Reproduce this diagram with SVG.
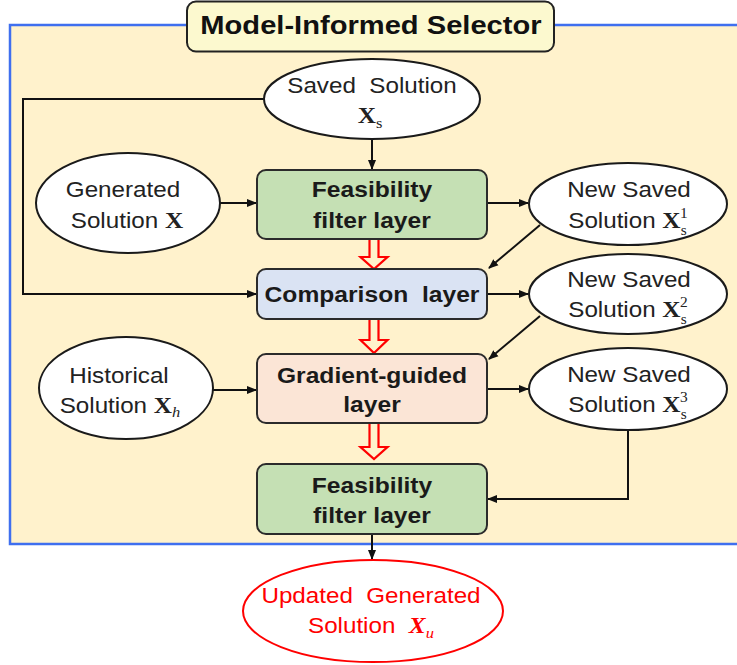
<svg xmlns="http://www.w3.org/2000/svg" width="737" height="665" viewBox="0 0 737 665">
<style>
  .t { font-family: "Liberation Sans", Arial, sans-serif; font-size: 22px; fill: #222; text-anchor: middle; transform-box: fill-box; transform-origin: center; transform: scaleX(1.1); }
  .b { font-family: "Liberation Sans", Arial, sans-serif; font-size: 22px; font-weight: bold; fill: #1a1a1a; text-anchor: middle; transform-box: fill-box; transform-origin: center; transform: scaleX(1.12); }
  .title { font-size: 26px; fill: #111; }
  .mx { font-family: "Liberation Serif", "Times New Roman", serif; font-weight: bold; font-size: 23px; }
  .sub { font-family: "Liberation Serif", "Times New Roman", serif; font-size: 15px; }
  .ss { font-family: "Liberation Serif", "Times New Roman", serif; font-size: 14px; }
  .it { font-style: italic; }
  .ell { fill: #ffffff; stroke: #1a1a1a; stroke-width: 2; }
  .box { stroke: #2b2b2b; stroke-width: 2; }
  .con { fill: none; stroke: #111; stroke-width: 2; }
  .red { fill: none; stroke: #ff0000; stroke-width: 2.2; stroke-linejoin: miter; }
  .red-t { fill: #ff0000; }
</style>
<defs>
  <marker id="ah" viewBox="0 0 10 10" refX="9" refY="5" markerWidth="5" markerHeight="5" orient="auto" markerUnits="strokeWidth">
    <path d="M0,1 L10,5 L0,9 Z" fill="#111"/>
  </marker>
</defs>
<rect width="737" height="665" fill="#ffffff"/>

<g id="panel">
  <rect x="10" y="25" width="740" height="519" fill="#FFF2CC" stroke="#3F6FEF" stroke-width="2.5"/>
</g>

<g id="title">
  <rect x="187" y="1.5" width="367" height="50" rx="9" fill="#FCF9CF" stroke="#222" stroke-width="2"/>
  <text class="b title" x="371" y="34">Model-Informed Selector</text>
</g>

<g id="connectors">
  <path class="con" d="M372,139 V169" marker-end="url(#ah)"/>
  <path class="con" d="M264,99 H23 V294 H256" marker-end="url(#ah)"/>
  <path class="con" d="M220,203 H256" marker-end="url(#ah)"/>
  <path class="con" d="M487,203 H528" marker-end="url(#ah)"/>
  <path class="con" d="M540,225 L489,268" marker-end="url(#ah)"/>
  <path class="con" d="M487,294 H528" marker-end="url(#ah)"/>
  <path class="con" d="M540,316 L489,359" marker-end="url(#ah)"/>
  <path class="con" d="M213,390 H256" marker-end="url(#ah)"/>
  <path class="con" d="M487,389 H528" marker-end="url(#ah)"/>
  <path class="con" d="M628,430 V499 H488" marker-end="url(#ah)"/>
  <path class="con" d="M372,534 V559" marker-end="url(#ah)"/>
  <path class="red" d="M369.5,240 V257 H360.5 L374,269 L387.5,257 H378.5 V240"/>
  <path class="red" d="M369.5,320 V340 H360.5 L374,353 L387.5,340 H378.5 V320"/>
  <path class="red" d="M369.5,424 V447 H360.5 L374,459 L387.5,447 H378.5 V424"/>
</g>

<g id="saved">
  <ellipse class="ell" cx="372" cy="99" rx="108" ry="40"/>
  <text class="t" x="372" y="93">Saved&#160; Solution</text>
  <text class="t" x="370" y="123"><tspan class="mx">X</tspan><tspan class="sub" dy="5">s</tspan></text>
</g>

<g id="generated">
  <ellipse class="ell" cx="128" cy="203" rx="92" ry="50"/>
  <text class="t" x="123" y="197">Generated</text>
  <text class="t" x="127" y="228">Solution <tspan class="mx">X</tspan></text>
</g>

<g id="historical">
  <ellipse class="ell" cx="126" cy="388" rx="87" ry="51"/>
  <text class="t" x="119" y="383">Historical</text>
  <text class="t" x="120" y="413">Solution <tspan class="mx">X</tspan><tspan class="sub it" dy="4">h</tspan></text>
</g>

<g id="feas1">
  <rect class="box" x="257" y="170" width="230" height="69" rx="9" fill="#C5E0B4"/>
  <text class="b" x="372" y="197">Feasibility</text>
  <text class="b" x="372" y="228">filter layer</text>
</g>

<g id="comparison">
  <rect class="box" x="257" y="269" width="230" height="50" rx="9" fill="#DAE3F3"/>
  <text class="b" x="372" y="302">Comparison&#160; layer</text>
</g>

<g id="gradient">
  <rect class="box" x="257" y="354" width="230" height="69" rx="9" fill="#FBE5D6"/>
  <text class="b" x="372" y="383">Gradient-guided</text>
  <text class="b" x="372" y="412">layer</text>
</g>

<g id="feas2">
  <rect class="box" x="257" y="464" width="230" height="70" rx="9" fill="#C5E0B4"/>
  <text class="b" x="372" y="493">Feasibility</text>
  <text class="b" x="372" y="523">filter layer</text>
</g>

<g id="new1">
  <ellipse class="ell" cx="628" cy="204" rx="99" ry="41"/>
  <text class="t" x="629" y="197">New Saved</text>
  <text class="t" x="628" y="228">Solution <tspan class="mx">X</tspan><tspan class="ss" dy="7">s</tspan><tspan class="ss" dx="-6" dy="-17">1</tspan></text>
</g>

<g id="new2">
  <ellipse class="ell" cx="628" cy="294" rx="99" ry="40"/>
  <text class="t" x="629" y="287">New Saved</text>
  <text class="t" x="628" y="317">Solution <tspan class="mx">X</tspan><tspan class="ss" dy="7">s</tspan><tspan class="ss" dx="-6" dy="-17">2</tspan></text>
</g>

<g id="new3">
  <ellipse class="ell" cx="628" cy="389" rx="99" ry="41"/>
  <text class="t" x="629" y="382">New Saved</text>
  <text class="t" x="628" y="412">Solution <tspan class="mx">X</tspan><tspan class="ss" dy="7">s</tspan><tspan class="ss" dx="-6" dy="-17">3</tspan></text>
</g>

<g id="updated">
  <ellipse cx="373" cy="611" rx="130" ry="51" fill="#ffffff" stroke="#ff0000" stroke-width="2"/>
  <text class="t red-t" x="371" y="603">Updated&#160; Generated</text>
  <text class="t red-t" x="371" y="633">Solution&#160; <tspan class="mx" font-style="italic">X</tspan><tspan class="sub it" dy="5">u</tspan></text>
</g>
</svg>
